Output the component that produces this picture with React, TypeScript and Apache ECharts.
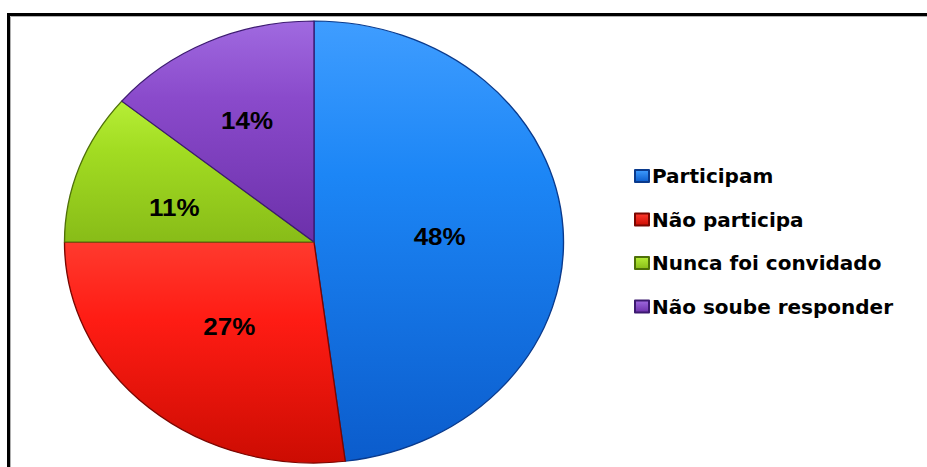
import React, { useEffect, useRef } from "react";
import * as echarts from "echarts";

const categories = ["Participam", "Não participa", "Nunca foi convidado", "Não soube responder"];
const values = [48, 27, 11, 14];

const shades = [
  { top: "#3f9dff", mid: "#1c86f6", bottom: "#0b5ccc", border: "#0a3a8c" },
  { top: "#ff3a2e", mid: "#ff1c14", bottom: "#cc0c02", border: "#7a0600" },
  { top: "#b6ee36", mid: "#a2dc22", bottom: "#88bc18", border: "#4e7008" },
  { top: "#a06ae0", mid: "#8a4acb", bottom: "#6c30aa", border: "#3c1a70" },
];
const labelOffsets = [[-2, 2], [0, 0], [-17, 4], [-11, -18]];

const grad = (s: any) =>
  new echarts.graphic.LinearGradient(0, 0, 0, 1, [
    { offset: 0, color: s.top },
    { offset: 0.35, color: s.mid },
    { offset: 1, color: s.bottom },
  ]);

export default function App() {
  const pieRef = useRef<HTMLDivElement>(null);
  const ovRef = useRef<HTMLDivElement>(null);

  useEffect(() => {
    const pie = echarts.init(pieRef.current!, null, { renderer: "svg" });
    const ov = echarts.init(ovRef.current!, null, { renderer: "svg" });

    pie.setOption({
      animation: false,
      series: [
        {
          type: "pie",
          center: [314, 242],
          radius: [0, 221],
          startAngle: 90,
          clockwise: true,
          silent: true,
          label: {
            show: true,
            position: "inside",
            formatter: "{c}%",
            fontFamily: "Liberation Sans",
            fontWeight: "bold",
            fontSize: 23,
            color: "#000",
          },
          labelLine: { show: false },
          data: categories.map((name, i) => ({
            name,
            value: values[i],
            itemStyle: {
              color: grad(shades[i]),
              borderColor: shades[i].border,
              borderWidth: 1.2,
            },
            label: { offset: labelOffsets[i] },
          })),
        },
      ],
    });

    ov.setOption({
      animation: false,
      legend: {
        orient: "vertical",
        left: 629,
        top: 161,
        itemWidth: 14,
        itemHeight: 12,
        itemGap: 23.5,
        icon: "rect",
        textStyle: {
          fontFamily: "DejaVu Sans",
          fontWeight: "bold",
          fontSize: 20,
          color: "#000",
          padding: [0, 0, 0, -2],
        },
        data: categories,
      },
      graphic: [
        {
          type: "rect",
          shape: { x: 10.5, y: 16.5, width: 1000, height: 1000 },
          style: { fill: "none", stroke: "#b0b0b0", lineWidth: 1 },
          silent: true,
        },
        {
          type: "rect",
          shape: { x: 8.5, y: 14.5, width: 1000, height: 1000 },
          style: { fill: "none", stroke: "#000", lineWidth: 3 },
          silent: true,
        },
      ],
      series: [
        {
          type: "pie",
          center: [-200, -200],
          radius: [0, 1],
          silent: true,
          label: { show: false },
          labelLine: { show: false },
          data: categories.map((name, i) => ({
            name,
            value: values[i],
            itemStyle: {
              color: new echarts.graphic.LinearGradient(0, 0, 0, 1, [
                { offset: 0, color: shades[i].top },
                { offset: 1, color: shades[i].bottom },
              ]),
              borderColor: shades[i].border,
              borderWidth: 0.8,
            },
          })),
        },
      ],
    });

    return () => {
      pie.dispose();
      ov.dispose();
    };
  }, []);

  return (
    <div style={{ position: "absolute", left: 0, top: 0, width: 927, height: 467, overflow: "hidden", background: "#fff" }}>
      <div
        ref={pieRef}
        style={{
          position: "absolute",
          left: 0,
          top: 0,
          width: 927,
          height: 467,
          transform: "scaleX(1.129)",
          transformOrigin: "314px 0px",
        }}
      />
      <div ref={ovRef} style={{ position: "absolute", left: 0, top: 0, width: 927, height: 467 }} />
    </div>
  );
}
